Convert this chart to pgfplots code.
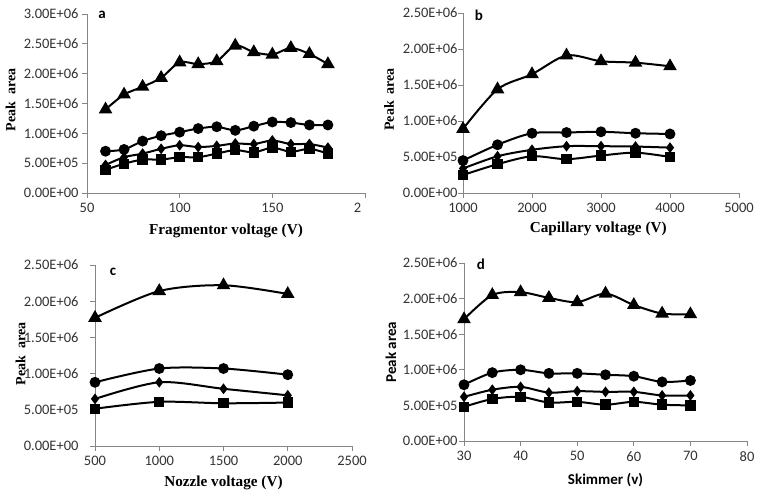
\documentclass[border=0pt]{standalone}
\usepackage{pgfplots}
\pgfplotsset{compat=1.18}
\usepackage{fontspec}
\setmainfont{Liberation Serif}
\newfontfamily\calibri{Carlito}
\definecolor{axgray}{HTML}{868686}
\pgfplotsset{
  panel/.style={
    scale only axis,
    axis x line=bottom, axis y line=left,
    axis line style={-, draw=axgray, line width=0.8pt},
    every tick/.style={draw=axgray, line width=0.8pt},
    tick align=outside, major tick length=5pt,
    tick label style={font=\calibri\fontsize{14.5}{15}\selectfont, text=black!80},
    xticklabel style={yshift=-2pt},
    /pgf/number format/assume math mode=true,
    /pgf/number format/1000 sep={},
    scaled y ticks=false, scaled x ticks=false,
    ymin=0, clip=false,
    label style={font=\bfseries\fontsize{15.2}{15}\selectfont},
    ylabel={Peak\ \ area},
    every axis plot/.append style={black, line width=2pt, smooth},
  },
  tri/.style={mark=triangle*, mark size=5.9pt},
  cir/.style={mark=*, mark size=4.4pt},
  dia/.style={mark=diamond*, mark size=4.2pt, mark options={scale=0.9}},
  sqr/.style={mark=square*, mark size=4.2pt},
}
\begin{document}
\begin{tikzpicture}[x=1pt,y=1pt]
\useasboundingbox (0,0) rectangle (762,497);
% ---------- a ----------
\begin{axis}[panel, at={(87pt,304pt)}, anchor=south west, width=278pt, height=179pt,
  xmin=50, xmax=200, xtick={50,100,150,200}, xticklabels={50,100,150,{2\phantom{00}}},
  ymax=3e6, ytick={0,5e5,1e6,1.5e6,2e6,2.5e6,3e6},
  yticklabels={0.00E+00,5.00E+05,1.00E+06,1.50E+06,2.00E+06,2.50E+06,3.00E+06},
  xlabel={Fragmentor voltage (V)},
  xlabel style={at={(axis description cs:0.5,-0.212)}, anchor=center},
  ylabel style={at={(axis description cs:-0.275,0.52)}, anchor=center, rotate=0, font=\bfseries\fontsize{14}{14}\selectfont},
]
\addplot[tri] coordinates {(60,1.40e6)(70,1.65e6)(80,1.78e6)(90,1.93e6)(100,2.19e6)(110,2.16e6)(120,2.21e6)(130,2.47e6)(140,2.36e6)(150,2.32e6)(160,2.43e6)(170,2.33e6)(180,2.16e6)};
\addplot[cir] coordinates {(60,0.70e6)(70,0.73e6)(80,0.87e6)(90,0.96e6)(100,1.02e6)(110,1.08e6)(120,1.11e6)(130,1.05e6)(140,1.12e6)(150,1.19e6)(160,1.18e6)(170,1.14e6)(180,1.14e6)};
\addplot[dia] coordinates {(60,0.47e6)(70,0.60e6)(80,0.66e6)(90,0.74e6)(100,0.80e6)(110,0.77e6)(120,0.79e6)(130,0.83e6)(140,0.82e6)(150,0.88e6)(160,0.82e6)(170,0.82e6)(180,0.76e6)};
\addplot[sqr] coordinates {(60,0.39e6)(70,0.49e6)(80,0.56e6)(90,0.56e6)(100,0.60e6)(110,0.60e6)(120,0.66e6)(130,0.72e6)(140,0.68e6)(150,0.76e6)(160,0.69e6)(170,0.74e6)(180,0.66e6)};
\node[font=\calibri\bfseries\fontsize{15}{15}\selectfont] at (rel axis cs:0.054,0.994) {a};
\end{axis}
% ---------- b ----------
\begin{axis}[panel, at={(463pt,304pt)}, anchor=south west, width=276pt, height=180pt,
  xmin=1000, xmax=5000, xtick={1000,2000,3000,4000,5000},
  ymax=2.5e6, ytick={0,5e5,1e6,1.5e6,2e6,2.5e6},
  yticklabels={0.00E+00,5.00E+05,1.00E+06,1.50E+06,2.00E+06,2.50E+06},
  yticklabel style={xshift=3pt},
  xlabel={Capillary voltage (V)},
  xlabel style={at={(axis description cs:0.49,-0.2)}, anchor=center},
  ylabel style={at={(axis description cs:-0.268,0.52)}, anchor=center, rotate=0, font=\bfseries\fontsize{14}{14}\selectfont},
]
\addplot[tri] coordinates {(1000,0.89e6)(1500,1.44e6)(2000,1.65e6)(2500,1.91e6)(3000,1.83e6)(3500,1.81e6)(4000,1.76e6)};
\addplot[cir] coordinates {(1000,0.45e6)(1500,0.67e6)(2000,0.83e6)(2500,0.84e6)(3000,0.85e6)(3500,0.83e6)(4000,0.82e6)};
\addplot[dia] coordinates {(1000,0.34e6)(1500,0.51e6)(2000,0.60e6)(2500,0.65e6)(3000,0.65e6)(3500,0.645e6)(4000,0.63e6)};
\addplot[sqr] coordinates {(1000,0.25e6)(1500,0.40e6)(2000,0.51e6)(2500,0.47e6)(3000,0.52e6)(3500,0.56e6)(4000,0.50e6)};
\node[font=\calibri\bfseries\fontsize{15}{15}\selectfont] at (rel axis cs:0.058,0.99) {b};
\end{axis}
% ---------- c ----------
\begin{axis}[panel, at={(95pt,51pt)}, anchor=south west, width=257pt, height=181pt,
  xmin=500, xmax=2500, xtick={500,1000,1500,2000,2500},
  ymax=2.5e6, ytick={0,5e5,1e6,1.5e6,2e6,2.5e6},
  yticklabels={0.00E+00,5.00E+05,1.00E+06,1.50E+06,2.00E+06,2.50E+06},
  yticklabel style={xshift=-8pt},
  xlabel={Nozzle voltage (V)},
  xlabel style={at={(axis description cs:0.5,-0.204)}, anchor=center},
  ylabel style={at={(axis description cs:-0.29,0.51)}, anchor=center, rotate=0, font=\bfseries\fontsize{14}{14}\selectfont},
]
\addplot[tri] coordinates {(500,1.77e6)(1000,2.14e6)(1500,2.22e6)(2000,2.10e6)};
\addplot[cir] coordinates {(500,0.88e6)(1000,1.07e6)(1500,1.07e6)(2000,0.985e6)};
\addplot[dia] coordinates {(500,0.65e6)(1000,0.88e6)(1500,0.79e6)(2000,0.70e6)};
\addplot[sqr] coordinates {(500,0.515e6)(1000,0.61e6)(1500,0.59e6)(2000,0.60e6)};
\node[font=\calibri\bfseries\fontsize{15}{15}\selectfont] at (rel axis cs:0.07,0.96) {c};
\end{axis}
% ---------- d ----------
\begin{axis}[panel, at={(464pt,56pt)}, anchor=south west, width=283pt, height=178pt,
  xmin=30, xmax=80, xtick={30,40,50,60,70,80},
  ymax=2.5e6, ytick={0,5e5,1e6,1.5e6,2e6,2.5e6},
  yticklabels={0.00E+00,5.00E+05,1.00E+06,1.50E+06,2.00E+06,2.50E+06},
  yticklabel style={xshift=2pt},
  label style={font=\calibri\bfseries\fontsize{15}{15}\selectfont},
  xlabel={Skimmer (v)}, ylabel={Peak area},
  xlabel style={at={(axis description cs:0.5,-0.219)}, anchor=center},
  ylabel style={at={(axis description cs:-0.258,0.5)}, anchor=center, rotate=0},
]
\addplot[tri] coordinates {(30,1.71e6)(35,2.05e6)(40,2.09e6)(45,2.01e6)(50,1.95e6)(55,2.07e6)(60,1.91e6)(65,1.79e6)(70,1.78e6)};
\addplot[cir] coordinates {(30,0.79e6)(35,0.96e6)(40,1.00e6)(45,0.95e6)(50,0.95e6)(55,0.93e6)(60,0.91e6)(65,0.83e6)(70,0.85e6)};
\addplot[dia] coordinates {(30,0.62e6)(35,0.72e6)(40,0.76e6)(45,0.68e6)(50,0.70e6)(55,0.69e6)(60,0.69e6)(65,0.64e6)(70,0.64e6)};
\addplot[sqr] coordinates {(30,0.48e6)(35,0.59e6)(40,0.62e6)(45,0.54e6)(50,0.55e6)(55,0.51e6)(60,0.55e6)(65,0.51e6)(70,0.50e6)};
\node[font=\calibri\bfseries\fontsize{15}{15}\selectfont] at (rel axis cs:0.06,0.994) {d};
\end{axis}
\end{tikzpicture}
\end{document}
